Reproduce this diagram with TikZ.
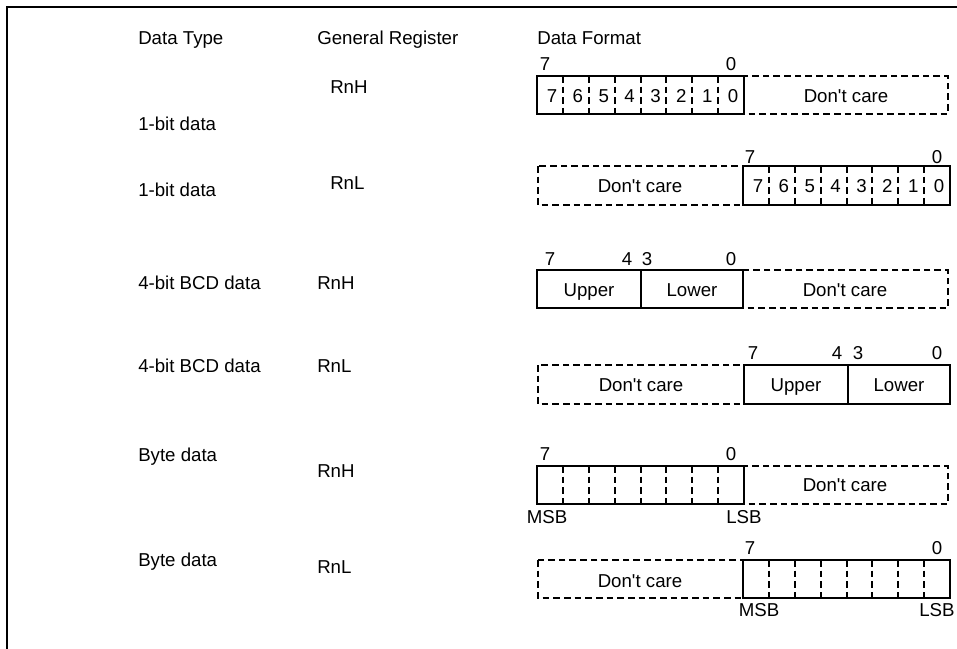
\documentclass[tikz,border=0pt]{standalone}
\usepackage{fontspec}
\setmainfont{Liberation Sans}
\usetikzlibrary{positioning}

\newcommand{\dontcare}{Don\textquotesingle t care}

\begin{document}
\begin{tikzpicture}[x=0.75pt,y=-0.75pt,
  every node/.style={font=\fontsize{14}{16}\selectfont,inner sep=0pt,
    text height=10pt,text depth=0pt},
  reg/.style={line width=1.5pt},
  dc/.style={line width=1.5pt,dash pattern=on 5pt off 3pt},
  cell/.style={line width=1.5pt,dash pattern=on 5pt off 3pt}]
  \useasboundingbox (0,0) rectangle (957,649);
  \draw[line width=1.5pt] (6.5,649) -- (6.5,7.5) -- (957,7.5);

  % headings
  \node[anchor=west] (hType) at (138,38) {Data Type};
  \node[anchor=west] (hReg) at (317,38) {General Register};
  \node[anchor=west] (hFmt) at (537,38) {Data Format};

  % row 1: 1-bit data in RnH
  \node[anchor=west] (t1) at (138,124) {1-bit data};
  \node[anchor=west] (g1) at (330,87) {RnH};
  \draw[dc] (744,76) rectangle (948,114);
  \draw[reg] (537,76) rectangle (744,114);
  \foreach \i in {1,...,7} \draw[cell] ({537+\i*25.875},76) -- ++(0,38);
  \foreach \b [count=\i from 0] in {7,...,0}
    \node (a\b) at ({539+(\i+0.5)*25.875},96) {\b};
  \node (n1h) at (545,64) {7};
  \node (n1l) at (731,64) {0};
  \node (dc1) at (846,96) {\dontcare};

  % row 2: 1-bit data in RnL
  \node[anchor=west] (t2) at (138,190) {1-bit data};
  \node[anchor=west] (g2) at (330,183) {RnL};
  \draw[dc] (538,166) rectangle (743,205);
  \draw[reg] (743,166) rectangle (950,205);
  \foreach \i in {1,...,7} \draw[cell] ({743+\i*25.875},166) -- ++(0,39);
  \foreach \b [count=\i from 0] in {7,...,0}
    \node (b\b) at ({745+(\i+0.5)*25.875},186) {\b};
  \node (n2h) at (750,157) {7};
  \node (n2l) at (937,157) {0};
  \node (dc2) at (640,186) {\dontcare};

  % row 3: 4-bit BCD data in RnH
  \node[anchor=west] (t3) at (138,283) {4-bit BCD data};
  \node[anchor=west] (g3) at (317,283) {RnH};
  \draw[dc] (743,270) rectangle (948,308);
  \draw[reg] (537,270) rectangle (743,308);
  \draw[reg] (641,270) -- (641,308);
  \node (up3) at (589,290) {Upper};
  \node (lo3) at (692,290) {Lower};
  \node (dc3) at (845,290) {\dontcare};
  \node (n3a) at (550,259) {7};
  \node (n3b) at (627,259) {4};
  \node (n3c) at (647,259) {3};
  \node (n3d) at (731,259) {0};

  % row 4: 4-bit BCD data in RnL
  \node[anchor=west] (t4) at (138,366) {4-bit BCD data};
  \node[anchor=west] (g4) at (317,366) {RnL};
  \draw[dc] (538,365) rectangle (744,404);
  \draw[reg] (744,365) rectangle (950,404);
  \draw[reg] (848,365) -- (848,404);
  \node (up4) at (796,385) {Upper};
  \node (lo4) at (899,385) {Lower};
  \node (dc4) at (641,385) {\dontcare};
  \node (n4a) at (753,353) {7};
  \node (n4b) at (837,353) {4};
  \node (n4c) at (858,353) {3};
  \node (n4d) at (937,353) {0};

  % row 5: byte data in RnH
  \node[anchor=west] (t5) at (138,455) {Byte data};
  \node[anchor=west] (g5) at (317,471) {RnH};
  \draw[dc] (744,466) rectangle (948,504);
  \draw[reg] (537,466) rectangle (744,504);
  \foreach \i in {1,...,7} \draw[cell] ({537+\i*25.875},466) -- ++(0,38);
  \node (n5h) at (545,454) {7};
  \node (n5l) at (731,454) {0};
  \node (dc5) at (845,485) {\dontcare};
  \node (msb5) at (547,517) {MSB};
  \node (lsb5) at (744,517) {LSB};

  % row 6: byte data in RnL
  \node[anchor=west] (t6) at (138,560) {Byte data};
  \node[anchor=west] (g6) at (317,567) {RnL};
  \draw[dc] (538,560) rectangle (743,598);
  \draw[reg] (743,560) rectangle (950,598);
  \foreach \i in {1,...,7} \draw[cell] ({743+\i*25.875},560) -- ++(0,38);
  \node (n6h) at (750,548) {7};
  \node (n6l) at (937,548) {0};
  \node (dc6) at (640,581) {\dontcare};
  \node (msb6) at (759,610) {MSB};
  \node (lsb6) at (937,610) {LSB};
\end{tikzpicture}
\end{document}
